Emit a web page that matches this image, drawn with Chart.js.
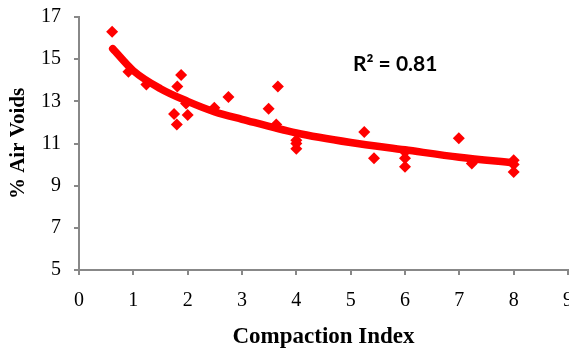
<!DOCTYPE html>
<html>
<head>
<meta charset="utf-8">
<script src="https://cdn.jsdelivr.net/npm/chart.js@4"></script>
<style>
    html, body { margin: 0; padding: 0; background: #fff; overflow: hidden; }
    #wrap { position: absolute; left: 0; top: -8px; width: 587px; height: 366px; }
</style>
</head>
<body>
<div id="wrap"><canvas id="voidsChart" width="587" height="366"></canvas></div>
<script>
// measured points
const compactionIndex = [0.61, 0.91, 1.24, 1.75, 1.80, 1.81, 1.88, 1.97, 2.0, 2.49, 2.75, 3.49, 3.63, 3.66,
    4.0, 4.0, 4.0, 5.25, 5.43, 6.0, 6.0, 6.0, 6.99, 7.23, 8.0, 8.0, 8.0];
const airVoids = [16.3, 14.4, 13.8, 12.4, 11.9, 13.7, 14.25, 12.9, 12.35, 12.7, 13.2, 12.65, 11.9, 13.7,
    11.15, 11.0, 10.75, 11.55, 10.3, 10.6, 10.3, 9.9, 11.25, 10.05, 10.2, 10.0, 9.65];

// trend line
const trendX = [0.62, 1, 1.5, 2, 2.5, 3, 4, 5, 6, 7, 8];
const trendY = [15.5, 14.45, 13.6, 13.0, 12.5, 12.15, 11.5, 11.05, 10.7, 10.35, 10.08];

const rSquaredLabel = 'R\u00B2 = 0.81';
const labelAt = { x: 5.82, y: 14.75 };

const serif = 'Liberation Serif, Times New Roman, serif';
const axisGray = '#888888';

const r2Plugin = {
    id: 'r2Label',
    afterDatasetsDraw(chart) {
        const c = chart.ctx;
        c.save();
        c.font = 'bold 21px Lato, sans-serif';
        c.fillStyle = '#000';
        c.textAlign = 'center';
        c.textBaseline = 'middle';
        c.fillText(rSquaredLabel, chart.scales.x.getPixelForValue(labelAt.x), chart.scales.y.getPixelForValue(labelAt.y));
        c.restore();
    }
};

const ctx = document.getElementById('voidsChart').getContext('2d');
new Chart(ctx, {
    type: 'scatter',
    data: {
        datasets: [{
            label: 'Air Voids',
            data: compactionIndex.map((ci, i) => ({ x: ci, y: airVoids[i] })),
            pointStyle: 'rectRot',
            pointRadius: 6,
            pointBackgroundColor: '#FF0000',
            pointBorderWidth: 0,
            backgroundColor: '#FF0000',
            borderColor: '#FF0000'
        }, {
            type: 'line',
            label: 'Log trend',
            data: trendX.map((tx, i) => ({ x: tx, y: trendY[i] })),
            borderColor: '#FF0000',
            borderWidth: 7.5,
            borderCapStyle: 'round',
            pointRadius: 0,
            cubicInterpolationMode: 'monotone',
            fill: false
        }]
    },
    options: {
        responsive: false,
        animation: false,
        layout: {
            padding: { top: 17, right: 4, bottom: 0, left: 0 }
        },
        plugins: {
            legend: { display: false },
            tooltip: { enabled: false }
        },
        scales: {
            x: {
                type: 'linear',
                min: 0,
                max: 9,
                ticks: { stepSize: 1, padding: 14, color: '#000', font: { family: serif, size: 20 } },
                grid: { drawOnChartArea: false, drawTicks: true, tickLength: 5, color: axisGray, lineWidth: 2 },
                border: { color: axisGray, width: 2 },
                title: {
                    display: true,
                    text: 'Compaction Index',
                    color: '#000',
                    font: { family: serif, size: 23, weight: 'bold' },
                    padding: { top: 0, bottom: 7 }
                },
                afterFit: (scale) => { scale.height = 88; }
            },
            y: {
                min: 5,
                max: 17,
                ticks: { stepSize: 2, padding: 13, color: '#000', font: { family: serif, size: 20 } },
                grid: { drawOnChartArea: false, drawTicks: true, tickLength: 5, color: axisGray, lineWidth: 2 },
                border: { color: axisGray, width: 2 },
                title: {
                    display: true,
                    text: '% Air Voids',
                    color: '#000',
                    font: { family: serif, size: 21, weight: 'bold' },
                    padding: { top: 6, bottom: 0 }
                },
                afterFit: (scale) => { scale.width = 79; }
            }
        }
    },
    plugins: [r2Plugin]
});
</script>
</body>
</html>
